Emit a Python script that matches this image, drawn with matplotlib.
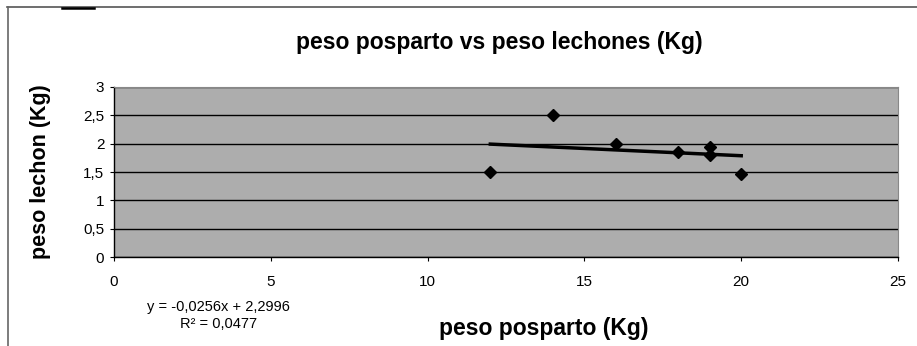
import matplotlib
matplotlib.use("Agg")
import matplotlib.pyplot as plt
import numpy as np
from matplotlib.lines import Line2D

plt.rcParams['font.family'] = ['Liberation Sans', 'DejaVu Sans']

peso_posparto = [12, 14, 16, 18, 19, 19, 20]
peso_lechon = [1.5, 2.5, 2.0, 1.85, 1.95, 1.8, 1.47]
trend_slope = -0.0256
trend_intercept = 2.2996
x_ticks = [0, 5, 10, 15, 20, 25]
y_ticks = [0, 0.5, 1, 1.5, 2, 2.5, 3]
y_tick_labels = ['0', '0,5', '1', '1,5', '2', '2,5', '3']

fig = plt.figure(figsize=(9.17, 3.46), dpi=100)
ax = fig.add_axes([0.1243, 0.257, 0.9793 - 0.1243, 0.7486 - 0.257])
ax.set_facecolor('#adadad')

ax.set_xlim(0, 25)
ax.set_ylim(0, 3)
ax.set_xticks(x_ticks)
ax.set_xticklabels([str(v) for v in x_ticks], fontsize=11)
ax.set_yticks(y_ticks)
ax.set_yticklabels(y_tick_labels, fontsize=11)
ax.tick_params(axis='x', direction='out', length=3, color='black', pad=10)
ax.tick_params(axis='y', direction='out', length=3, color='black', pad=4)
ax.yaxis.grid(True, color='black', linewidth=1)
ax.set_axisbelow(True)
for s in ['top', 'right']:
    ax.spines[s].set_color('#888888')
    ax.spines[s].set_linewidth(0.8)
for s in ['left', 'bottom']:
    ax.spines[s].set_color('black')
    ax.spines[s].set_linewidth(1)

xs = np.array([min(peso_posparto), max(peso_posparto)])
ax.plot(xs, trend_intercept + trend_slope * xs, color='black', linewidth=2.5, zorder=3)
ax.plot(peso_posparto, peso_lechon, linestyle='none', marker='D', markersize=6,
        color='black', zorder=4)

fig.text(0.545, 0.878, 'peso posparto vs peso lechones (Kg)', ha='center', va='center',
         fontsize=16.5, fontweight='bold')
fig.text(0.044, 0.505, 'peso lechon (Kg)', ha='center', va='center', rotation=90,
         fontsize=15.5, fontweight='bold')
fig.text(0.593, 0.052, 'peso posparto (Kg)', ha='center', va='center',
         fontsize=16.5, fontweight='bold')
fig.text(0.238, 0.112, 'y = -0,0256x + 2,2996', ha='center', va='center', fontsize=10.5)
fig.text(0.238, 0.063, 'R² = 0,0477', ha='center', va='center', fontsize=10.5)

# outer frame fragments
fig.add_artist(Line2D([0.008, 1.0], [0.979, 0.979], transform=fig.transFigure,
                      color='#555555', linewidth=1.2))
fig.add_artist(Line2D([0.009, 0.009], [0.0, 0.979], transform=fig.transFigure,
                      color='#666666', linewidth=1.2))
fig.add_artist(Line2D([0.068, 0.102], [0.978, 0.978], transform=fig.transFigure,
                      color='black', linewidth=1.8))

fig.savefig('out.png', dpi=100)
